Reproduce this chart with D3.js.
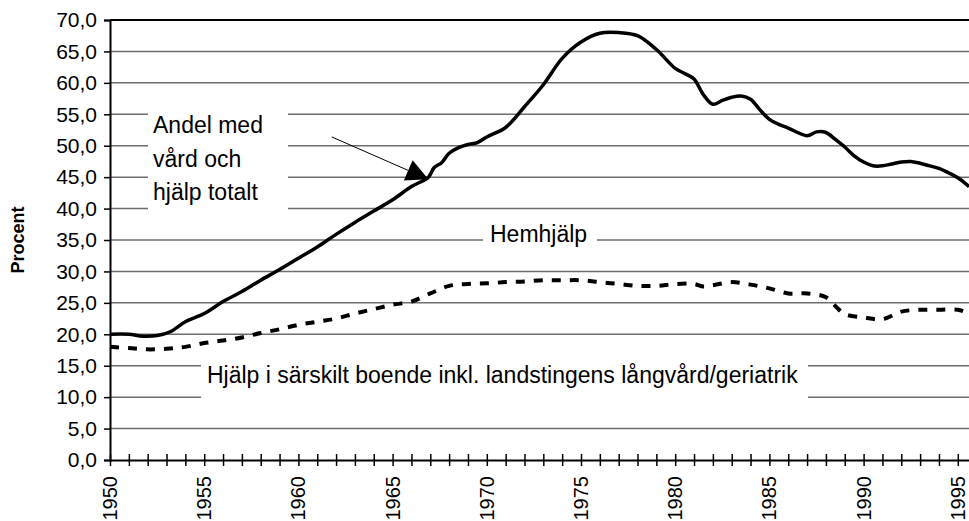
<!DOCTYPE html>
<html>
<head>
<meta charset="utf-8">
<script src="https://cdn.jsdelivr.net/npm/d3@7"></script>
<style>
  html, body { margin: 0; padding: 0; background: #fff; }
  svg { display: block; font-family: "Liberation Sans", Arial, sans-serif; }
</style>
</head>
<body>
<svg id="chart" width="969" height="521"></svg>
<script>
// ---- data ----
const totalYears = [1950, 1951, 1951.75, 1952.5, 1953.2, 1954, 1955, 1956, 1957, 1958, 1959, 1960, 1961, 1962, 1963, 1964, 1965, 1966, 1966.9, 1967.2, 1967.6, 1968, 1968.5, 1969, 1969.5, 1970, 1971, 1972, 1973, 1974, 1975, 1976, 1977, 1978, 1979, 1980, 1980.5, 1981, 1981.5, 1982, 1982.5, 1983, 1983.5, 1984, 1984.5, 1985, 1985.5, 1986, 1987, 1987.5, 1988, 1988.5, 1989, 1989.5, 1990, 1990.5, 1991, 1991.5, 1992, 1992.5, 1993, 1993.5, 1994, 1994.5, 1995, 1995.6];
const totalValues = [20.0, 20.0, 19.7, 19.8, 20.4, 22.0, 23.3, 25.2, 26.8, 28.6, 30.3, 32.1, 33.9, 35.9, 37.8, 39.6, 41.4, 43.5, 45.0, 46.5, 47.3, 48.8, 49.7, 50.2, 50.5, 51.4, 52.9, 56.2, 59.7, 63.9, 66.5, 67.9, 68.0, 67.5, 65.3, 62.3, 61.5, 60.6, 58.1, 56.6, 57.2, 57.7, 57.9, 57.4, 55.7, 54.2, 53.4, 52.8, 51.6, 52.2, 52.1, 51.0, 49.8, 48.4, 47.4, 46.8, 46.8, 47.1, 47.4, 47.5, 47.2, 46.8, 46.4, 45.7, 44.9, 43.5];

const boendeYears = [1950, 1951, 1952, 1953, 1954, 1955, 1956, 1957, 1958, 1959, 1960, 1961, 1962, 1963, 1964, 1965, 1966, 1967, 1968, 1969, 1970, 1971, 1972, 1973, 1974, 1975, 1976, 1977, 1978, 1979, 1980, 1981, 1981.5, 1982, 1983, 1984, 1985, 1986, 1987, 1988, 1988.5, 1989, 1990, 1991, 1992, 1993, 1994, 1995, 1995.6];
const boendeValues = [18.0, 17.8, 17.6, 17.7, 18.0, 18.6, 19.0, 19.5, 20.2, 20.8, 21.5, 22.0, 22.5, 23.3, 24.0, 24.7, 25.2, 26.5, 27.7, 28.0, 28.1, 28.3, 28.4, 28.6, 28.6, 28.6, 28.3, 28.0, 27.7, 27.7, 28.0, 28.0, 27.6, 27.8, 28.3, 27.9, 27.3, 26.5, 26.5, 25.9, 24.5, 23.2, 22.7, 22.4, 23.6, 23.9, 23.9, 23.9, 23.3];

const yTicks = [0, 5, 10, 15, 20, 25, 30, 35, 40, 45, 50, 55, 60, 65, 70];
const xLabelYears = [1950, 1955, 1960, 1965, 1970, 1975, 1980, 1985, 1990, 1995];
const allYears = d3.range(1950, 1997);

const yAxisTitle = "Procent";
const labelTotal = ["Andel med", "vård och", "hjälp totalt"];
const labelHem = "Hemhjälp";
const labelBoende = "Hjälp i särskilt boende inkl. landstingens långvård/geriatrik";
// arrow annotation in data coordinates [year, value]
const arrowFrom = [1961.77, 51.4];
const arrowTo = [1966.9, 44.66];

// ---- layout ----
const svg = d3.select("#chart");
const pL = 110, pT = 20, pB = 460;
const W = 969;
const x = d3.scaleLinear().domain([1950, 1996]).range([pL, pL + 46 * 18.84]);
const y = d3.scaleLinear().domain([0, 70]).range([pB, pT]);

// gridlines
svg.append("g").selectAll("line").data(yTicks.filter(d => d > 0 && d < 70)).join("line")
  .attr("x1", pL).attr("x2", W)
  .attr("y1", d => y(d)).attr("y2", d => y(d))
  .attr("stroke", "#6e6e6e").attr("stroke-width", 1.5);

// white label boxes (cover gridlines)
const boxes = [
  [148, 95, 140, 130],
  [483, 224, 114, 32],
  [201, 350, 607, 60]
];
svg.append("g").selectAll("rect").data(boxes).join("rect")
  .attr("x", d => d[0]).attr("y", d => d[1]).attr("width", d => d[2]).attr("height", d => d[3])
  .attr("fill", "#fff");

// top border
svg.append("line").attr("x1", pL).attr("x2", W).attr("y1", y(70)).attr("y2", y(70))
  .attr("stroke", "#000").attr("stroke-width", 2);

// y axis
const yAxis = d3.axisLeft(y).tickValues(yTicks).tickSize(6).tickPadding(7)
  .tickFormat(d => d3.format(".1f")(d).replace(".", ","));
const gy = svg.append("g").attr("transform", `translate(${pL},0)`).call(yAxis);
gy.select(".domain").attr("stroke", "#000").attr("stroke-width", 2);
gy.selectAll(".tick line").attr("stroke", "#000").attr("stroke-width", 1.5);
gy.selectAll(".tick text").attr("font-size", "21px").attr("fill", "#000")
  .attr("font-family", "Liberation Sans, Arial, sans-serif");

// x axis
const xAxis = d3.axisBottom(x).tickValues(allYears).tickSizeInner(6).tickSizeOuter(0).tickFormat("");
const gx = svg.append("g").attr("transform", `translate(0,${pB})`).call(xAxis);
gx.select(".domain").attr("stroke", "#000").attr("stroke-width", 2);
gx.selectAll(".tick line").attr("stroke", "#000").attr("stroke-width", 1.5).attr("y1", -6);
gx.selectAll(".xlab").data(xLabelYears).join("text")
  .attr("class", "xlab")
  .attr("transform", d => `translate(${x(d)},${476 - pB}) rotate(-90)`)
  .attr("text-anchor", "end").attr("dy", "0.35em")
  .attr("font-size", "20px").attr("fill", "#000")
  .attr("font-family", "Liberation Sans, Arial, sans-serif")
  .text(d => d);

// y axis title
svg.append("text").attr("transform", "translate(18,240) rotate(-90)")
  .attr("text-anchor", "middle").attr("dy", "0.35em")
  .attr("font-weight", "bold").attr("font-size", "18px").text(yAxisTitle);

// series
const line = d3.line().x(d => x(d[0])).y(d => y(d[1])).curve(d3.curveCatmullRom.alpha(0.5));
svg.append("path").datum(boendeYears.map((yr, i) => [yr, boendeValues[i]]))
  .attr("d", line).attr("fill", "none").attr("stroke", "#000")
  .attr("stroke-width", 4).attr("stroke-dasharray", "9,9");
svg.append("path").datum(totalYears.map((yr, i) => [yr, totalValues[i]]))
  .attr("d", line).attr("fill", "none").attr("stroke", "#000")
  .attr("stroke-width", 3.5).attr("stroke-linejoin", "round");

// labels
const lt = svg.append("text").attr("font-size", "23px").attr("fill", "#000");
labelTotal.forEach((s, i) => {
  lt.append("tspan").attr("x", 153).attr("y", 133 + i * 33.5).text(s);
});
svg.append("text").attr("x", 490).attr("y", 241.5).attr("font-size", "23px").text(labelHem);
svg.append("text").attr("x", 207).attr("y", 383).attr("font-size", "23px").text(labelBoende);

// arrow
const ax0 = x(arrowFrom[0]), ay0 = y(arrowFrom[1]);
const ax1 = x(arrowTo[0]), ay1 = y(arrowTo[1]);
const dx = ax1 - ax0, dy = ay1 - ay0, len = Math.hypot(dx, dy);
const ux = dx / len, uy = dy / len;
const headL = 22, headW = 11;
const bx = ax1 - headL * ux, by = ay1 - headL * uy;
svg.append("line").attr("x1", ax0).attr("y1", ay0).attr("x2", bx).attr("y2", by)
  .attr("stroke", "#000").attr("stroke-width", 1);
svg.append("path")
  .attr("d", `M${ax1},${ay1}L${bx - headW * uy},${by + headW * ux}L${bx + headW * uy},${by - headW * ux}Z`)
  .attr("fill", "#000");
</script>
</body>
</html>
